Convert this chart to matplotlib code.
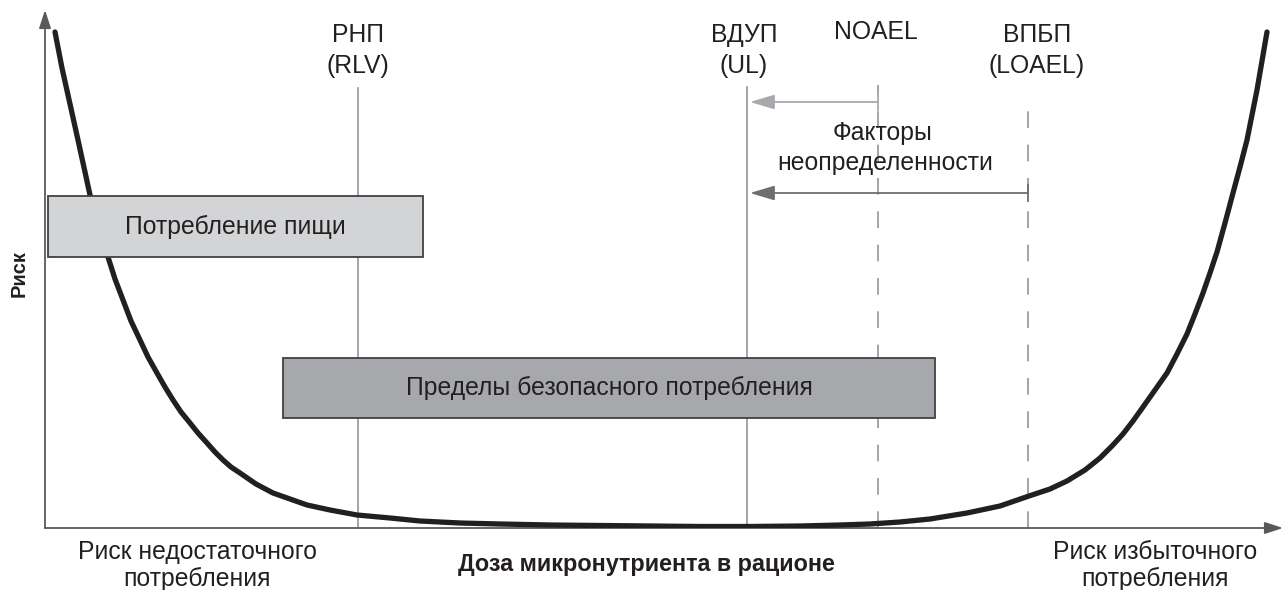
import matplotlib
matplotlib.use("Agg")
import matplotlib.pyplot as plt
from matplotlib.patches import Rectangle

plt.rcParams['font.family'] = ['Liberation Sans', 'DejaVu Sans']

# ---- data (dose units along x, risk units along y) ----
curve_x = [10, 17, 25, 33, 40, 45, 50, 56, 63, 70,
           78, 86, 95, 103, 112, 120, 128, 136, 145, 153,
           162, 170, 178, 186, 195, 211, 228, 245, 262, 285,
           312, 345, 375, 415, 455, 505, 555, 605, 655, 705,
           755, 795, 825, 855, 885, 922, 955, 984, 1005, 1022,
           1040, 1055, 1067, 1078, 1088, 1098, 1110, 1122, 1132, 1142,
           1150, 1158, 1165, 1172, 1180, 1188, 1195, 1202, 1207, 1212,
           1217, 1222]
curve_y = [496, 460, 424, 388, 356, 333, 313, 292, 271, 249,
           228, 207, 188, 171, 155, 141, 128, 116, 105, 95,
           85, 76, 68, 61, 55, 44, 35, 29, 23, 18,
           13, 10, 7, 5, 4, 3, 2.5, 2, 1.5, 1.5,
           2, 3, 4, 6, 9, 15, 22, 32, 39, 47,
           58, 70, 82, 94, 107, 121, 138, 155, 174, 194,
           214, 235, 255, 276, 305, 335, 361, 388, 413, 438,
           467, 496]

ref_line1 = ["РНП", "ВДУП", "NOAEL", "ВПБП"]
ref_line2 = ["(RLV)", "(UL)", "", "(LOAEL)"]
ref_x = [313, 702, 833, 983]
ref_top = [440, 441, 443, 431]
ref_dashed = [False, False, True, True]
ref_label_x = [313, 699, 831, 992]

box_labels = ["Потребление пищи", "Пределы безопасного потребления"]
box_x0 = [3, 238]
box_x1 = [378, 890]
box_y0 = [271, 110]
box_y1 = [332, 170]
box_colors = ["#d3d4d6", "#a7a8ab"]

arrow_from = [833, 983]
arrow_to = [705, 705]
arrow_y = [426, 335]
arrow_colors = ["#a7a9ac", "#6d6e71"]

TXT = "#231f20"
FS = 17.8

fig = plt.figure(figsize=(12.83, 5.90), dpi=100)
ax = fig.add_axes([45 / 1283, 62 / 590, 1235 / 1283, 518 / 590])
ax.set_xlim(0, 1235)
ax.set_ylim(0, 518)
ax.axis('off')

# axes with arrows
ax.annotate("", xy=(0, 518), xytext=(0, 0), annotation_clip=False,
            arrowprops=dict(arrowstyle="-|>,head_length=1.1,head_width=0.36",
                            color="#58595b", lw=1.3, shrinkA=0, shrinkB=0))
ax.annotate("", xy=(1238, 0), xytext=(0, 0), annotation_clip=False,
            arrowprops=dict(arrowstyle="-|>,head_length=1.1,head_width=0.36",
                            color="#58595b", lw=1.3, shrinkA=0, shrinkB=0))

# reference vertical lines
for x, top, dashed, l1, l2, lx in zip(ref_x, ref_top, ref_dashed, ref_line1,
                                       ref_line2, ref_label_x):
    ax.plot([x, x], [0, top], color="#939598", lw=1.2,
            linestyle=(0, (10, 10)) if dashed else '-', zorder=1)
    if l2:
        ax.text(lx, 493, l1, ha='center', va='center', fontsize=FS, color=TXT)
        ax.text(lx, 462, l2, ha='center', va='center', fontsize=FS, color=TXT)
    else:
        ax.text(lx, 496, l1, ha='center', va='center', fontsize=FS, color=TXT)

# arrows (uncertainty factors)
for x0, x1, y, c in zip(arrow_from, arrow_to, arrow_y, arrow_colors):
    ax.annotate("", xy=(x1, y), xytext=(x0, y),
                arrowprops=dict(arrowstyle="-|>,head_length=1.5,head_width=0.45",
                                color=c, lw=1.3, shrinkA=0, shrinkB=0), zorder=3)
    ax.plot([x0, x0], [y - 8, y + 8], color=c, lw=1.3, zorder=3)

ax.text(838, 395, "Факторы", ha='center', va='center', fontsize=FS, color=TXT)
ax.text(840, 365, "неопределенности", ha='center', va='center', fontsize=FS, color=TXT)

# curve
ax.plot(curve_x, curve_y, color="#231f20", lw=3.8, solid_capstyle='round',
        solid_joinstyle='round', zorder=4)

# boxes
for lab, x0, x1, y0, y1, c in zip(box_labels, box_x0, box_x1, box_y0, box_y1, box_colors):
    ax.add_patch(Rectangle((x0, y0), x1 - x0, y1 - y0, facecolor=c,
                           edgecolor="#414042", lw=1.3, zorder=5))
    ax.text((x0 + x1) / 2, (y0 + y1) / 2, lab, ha='center', va='center',
            fontsize=FS, color=TXT, zorder=6)

# axis captions
def ftxt(x, y, s, **kw):
    fig.text(x / 1283, 1 - y / 590, s, ha='center', va='center', color=TXT, **kw)

ftxt(197, 552, "Риск недостаточного", fontsize=FS)
ftxt(197, 579, "потребления", fontsize=FS)
ftxt(1155, 552, "Риск избыточного", fontsize=FS)
ftxt(1155, 579, "потребления", fontsize=FS)
ftxt(646, 565, "Доза микронутриента в рационе", fontsize=16.8, fontweight='bold')
ftxt(19, 274, "Риск", rotation=90, fontsize=14.5, fontweight='bold')

fig.savefig("out.png", dpi=100)
